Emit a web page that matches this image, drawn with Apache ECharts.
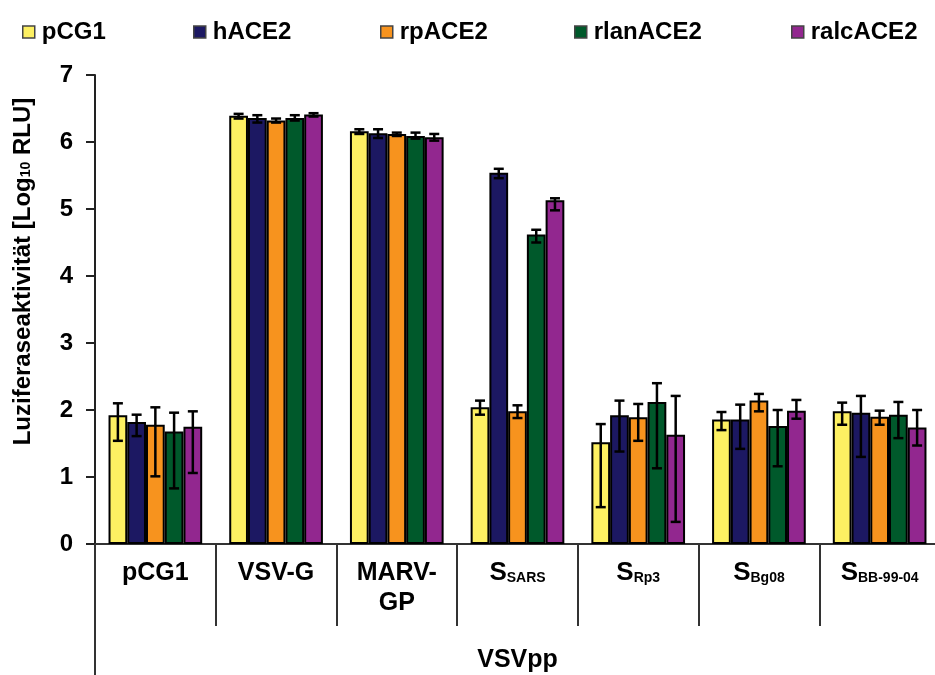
<!DOCTYPE html>
<html>
<head>
    <meta charset="UTF-8">
    <title>VSVpp Luziferaseaktivität</title>
</head>
<body style="margin:0;">
    <div id="container" style="width: 935px;height: 675px;"></div>
    <script src="https://cdn.jsdelivr.net/npm/echarts@6.0.0/dist/echarts.min.js"></script>
    <script type="text/javascript">
        // Kategorien (S_ = S mit tiefgestelltem Namen)
        var categories = ['pCG1', 'VSV-G', 'MARV-\nGP', 'S_SARS', 'S_Rp3', 'S_Bg08', 'S_BB-99-04'];
        var seriesNames = ['pCG1', 'hACE2', 'rpACE2', 'rlanACE2', 'ralcACE2'];
        var colors = ['#fdf062', '#1c1862', '#f7931e', '#00592b', '#92278f'];
        var yTicks = [0, 1, 2, 3, 4, 5, 6, 7];

        // Mittelwerte (log10 RLU)
        var valPCG1 = [1.92, 6.39, 6.16, 2.04, 1.52, 1.86, 1.98];
        var valHACE2 = [1.82, 6.36, 6.13, 5.54, 1.92, 1.86, 1.96];
        var valRpACE2 = [1.78, 6.32, 6.12, 1.98, 1.89, 2.14, 1.90];
        var valRlanACE2 = [1.68, 6.36, 6.09, 4.62, 2.12, 1.76, 1.93];
        var valRalcACE2 = [1.75, 6.41, 6.07, 5.13, 1.63, 1.99, 1.74];

        // Fehlerbalken: obere und untere Grenze
        var hiPCG1 = [2.10, 6.42, 6.19, 2.14, 1.79, 1.97, 2.11];
        var loPCG1 = [1.54, 6.35, 6.12, 1.93, 0.55, 1.70, 1.78];
        var hiHACE2 = [1.93, 6.40, 6.19, 5.60, 2.14, 2.08, 2.21];
        var loHACE2 = [1.61, 6.29, 6.06, 5.46, 1.38, 1.42, 1.30];
        var hiRpACE2 = [2.04, 6.35, 6.14, 2.07, 2.09, 2.24, 1.99];
        var loRpACE2 = [1.01, 6.29, 6.09, 1.88, 1.54, 1.98, 1.78];
        var hiRlanACE2 = [1.96, 6.40, 6.14, 4.69, 2.40, 2.00, 2.12];
        var loRlanACE2 = [0.83, 6.32, 6.05, 4.50, 1.13, 1.16, 1.58];
        var hiRalcACE2 = [1.98, 6.43, 6.12, 5.16, 2.21, 2.15, 2.00];
        var loRalcACE2 = [1.06, 6.38, 6.02, 4.98, 0.33, 1.87, 1.47];

        var values = [valPCG1, valHACE2, valRpACE2, valRlanACE2, valRalcACE2];
        var highs = [hiPCG1, hiHACE2, hiRpACE2, hiRlanACE2, hiRalcACE2];
        var lows = [loPCG1, loHACE2, loRpACE2, loRlanACE2, loRalcACE2];

        var font = 'Liberation Sans, Arial, sans-serif';
        var gapRatio = 0.224;
        var legendLeft = [17, 188, 375, 569, 786];

        var myChart = echarts.init(document.getElementById('container'));

        var series = [];
        seriesNames.forEach(function (name, k) {
            series.push({
                name: name,
                type: 'bar',
                data: values[k],
                barGap: '0%',
                barCategoryGap: (gapRatio * 100) + '%',
                itemStyle: {
                    color: colors[k],
                    borderColor: '#000',
                    borderWidth: 2
                },
                emphasis: { disabled: true }
            });
        });
        seriesNames.forEach(function (name, k) {
            series.push({
                type: 'custom',
                z: 5,
                silent: true,
                data: categories.map(function (c, i) { return [i, lows[k][i], highs[k][i]]; }),
                encode: { x: 0, y: [1, 2] },
                renderItem: function (params, api) {
                    var c = api.value(0);
                    var lo = api.coord([c, api.value(1)]);
                    var hi = api.coord([c, api.value(2)]);
                    var band = api.size([1, 0])[0];
                    var bw = band * (1 - gapRatio) / seriesNames.length;
                    var x = lo[0] + (k - (seriesNames.length - 1) / 2) * bw;
                    var h = 5;
                    var st = { stroke: '#000', lineWidth: 2.5 };
                    return {
                        type: 'group',
                        children: [
                            { type: 'line', shape: { x1: x, y1: hi[1], x2: x, y2: lo[1] }, style: st },
                            { type: 'line', shape: { x1: x - h, y1: hi[1], x2: x + h, y2: hi[1] }, style: st },
                            { type: 'line', shape: { x1: x - h, y1: lo[1], x2: x + h, y2: lo[1] }, style: st }
                        ]
                    };
                }
            });
        });

        var legends = seriesNames.map(function (name, k) {
            return {
                data: [name],
                left: legendLeft[k],
                top: 15,
                icon: 'rect',
                itemWidth: 12,
                itemHeight: 12,
                itemGap: 0,
                selectedMode: false,
                itemStyle: { borderColor: '#444', borderWidth: 1.5 },
                textStyle: { fontFamily: font, fontSize: 24, fontWeight: 'bold', color: '#000', padding: [0, 0, 0, 2] }
            };
        });

        var option = {
            animation: false,
            backgroundColor: '#fff',
            textStyle: { fontFamily: font },
            legend: legends,
            grid: {
                left: 95,
                right: -5,
                top: 75,
                bottom: 131,
                containLabel: false,
                outerBoundsMode: 'none'
            },
            xAxis: [{
                type: 'category',
                data: categories,
                axisLine: { show: true, lineStyle: { color: '#333', width: 2 } },
                axisTick: { show: true, length: 82, lineStyle: { color: '#333', width: 2 } },
                axisLabel: {
                    interval: 0,
                    margin: 14,
                    color: '#000',
                    fontFamily: font,
                    fontSize: 25,
                    fontWeight: 'bold',
                    lineHeight: 30,
                    formatter: function (v) {
                        if (v.indexOf('S_') === 0) {
                            return '{b|S}{s|' + v.slice(2) + '}';
                        }
                        return v;
                    },
                    rich: {
                        b: { fontFamily: font, fontSize: 26, fontWeight: 'bold', color: '#000', lineHeight: 30 },
                        s: { fontFamily: font, fontSize: 14, fontWeight: 'bold', color: '#000', verticalAlign: 'bottom', lineHeight: 14, padding: [0, 0, 3, 0] }
                    }
                }
            }, {
                type: 'category',
                data: ['VSVpp'],
                position: 'bottom',
                axisLine: { show: false },
                axisTick: { show: true, length: 131, lineStyle: { color: '#333', width: 2 } },
                axisLabel: {
                    margin: 101,
                    color: '#000',
                    fontFamily: font,
                    fontSize: 25,
                    fontWeight: 'bold',
                    lineHeight: 30
                }
            }],
            yAxis: {
                type: 'value',
                min: yTicks[0],
                max: yTicks[yTicks.length - 1],
                interval: 1,
                name: '{t|Luziferaseaktivität [Log}{s|10}{t| RLU]}',
                nameLocation: 'middle',
                nameRotate: 90,
                nameGap: 58,
                nameTextStyle: {
                    padding: [0, 0, 0, 76],
                    rich: {
                        t: { fontFamily: font, fontSize: 24, fontWeight: 'bold', color: '#000', lineHeight: 28 },
                        s: { fontFamily: font, fontSize: 14, fontWeight: 'bold', color: '#000', verticalAlign: 'bottom', lineHeight: 14, padding: [0, 0, 4, 0] }
                    }
                },
                splitLine: { show: false },
                axisLine: { show: true, lineStyle: { color: '#222', width: 2 } },
                axisTick: { show: true, length: 9, lineStyle: { color: '#222', width: 2 } },
                axisLabel: {
                    margin: 22,
                    color: '#000',
                    fontFamily: font,
                    fontSize: 24,
                    fontWeight: 'bold'
                }
            },
            series: series
        };
        myChart.setOption(option);
    </script>
</body>
</html>
